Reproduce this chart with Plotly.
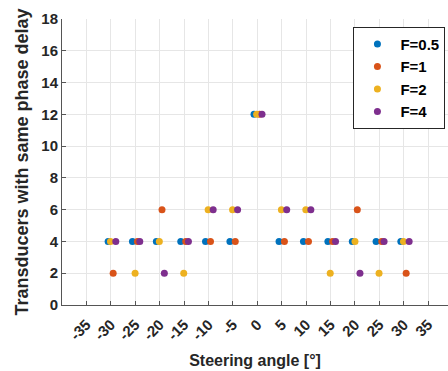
import plotly.graph_objects as go

# Data
x_f05 = [-30.55, -25.57, -20.68, -15.68, -10.61, -5.61, -0.68, 4.45, 9.45, 14.45, 19.45, 24.32, 29.39]
y_f05 = [4, 4, 4, 4, 4, 4, 12, 4, 4, 4, 4, 4, 4]

x_f1 = [-29.52, -24.55, -19.52, -14.66, -9.59, -4.52, 0.45, 5.55, 10.48, 15.41, 20.48, 25.48, 30.48]
y_f1 = [2, 4, 6, 4, 4, 4, 12, 4, 4, 4, 6, 4, 2]

x_f2 = [-30.07, -25.03, -20.07, -15.07, -10.07, -5.07, -0.14, 4.93, 9.93, 14.93, 20.0, 24.93, 29.93]
y_f2 = [4, 2, 4, 2, 6, 6, 12, 6, 6, 2, 4, 2, 4]

x_f4 = [-28.98, -24.07, -19.04, -14.11, -9.04, -4.04, 0.96, 6.02, 10.96, 16.02, 21.02, 25.96, 31.09]
y_f4 = [4, 4, 2, 4, 6, 6, 12, 6, 6, 4, 2, 4, 4]

names = ["F=0.5", "F=1", "F=2", "F=4"]
colors = ["#0072BD", "#D95319", "#EDB120", "#7E2F8E"]

x_ticks = list(range(-35, 40, 5))
y_ticks = list(range(0, 20, 2))

FONT = "Liberation Sans, Arial, sans-serif"

fig = go.Figure()
for xs, ys, nm, c in zip([x_f05, x_f1, x_f2, x_f4], [y_f05, y_f1, y_f2, y_f4], names, colors):
    fig.add_trace(go.Scatter(x=xs, y=ys, mode="markers", name=nm,
                             marker=dict(color=c, size=7, line=dict(width=0))))

axis_common = dict(
    showgrid=True, gridcolor="#E6E6E6", gridwidth=1,
    showline=True, linecolor="#555555", linewidth=1,
    ticks="inside", ticklen=4, tickcolor="#555555",
    zeroline=False,
    tickfont=dict(family=FONT, size=15, color="#262626", weight="bold"),
)

fig.update_xaxes(
    range=[-40, 39.05], tickvals=x_ticks, ticktext=[str(v) for v in x_ticks],
    tickangle=-45, ticklabelstandoff=4,
    title=dict(text="Steering angle [°]", standoff=12,
               font=dict(family=FONT, size=16, color="#262626", weight="bold")),
    **axis_common,
)
fig.update_yaxes(
    range=[0, 18], tickvals=y_ticks,
    title=dict(text="Transducers with same phase delay", standoff=8,
               font=dict(family=FONT, size=18, color="#262626", weight="bold")),
    **axis_common,
)

fig.update_layout(
    width=448, height=371,
    margin=dict(l=62, r=0, t=19, b=66),
    plot_bgcolor="white", paper_bgcolor="white",
    legend=dict(
        x=0.755, y=0.973, xanchor="left", yanchor="top",
        bgcolor="white", bordercolor="#262626", borderwidth=1,
        font=dict(family=FONT, size=15, color="black", weight="bold"),
        tracegroupgap=0, itemwidth=36,
    ),
    showlegend=True,
)

fig.write_html("out.html")
